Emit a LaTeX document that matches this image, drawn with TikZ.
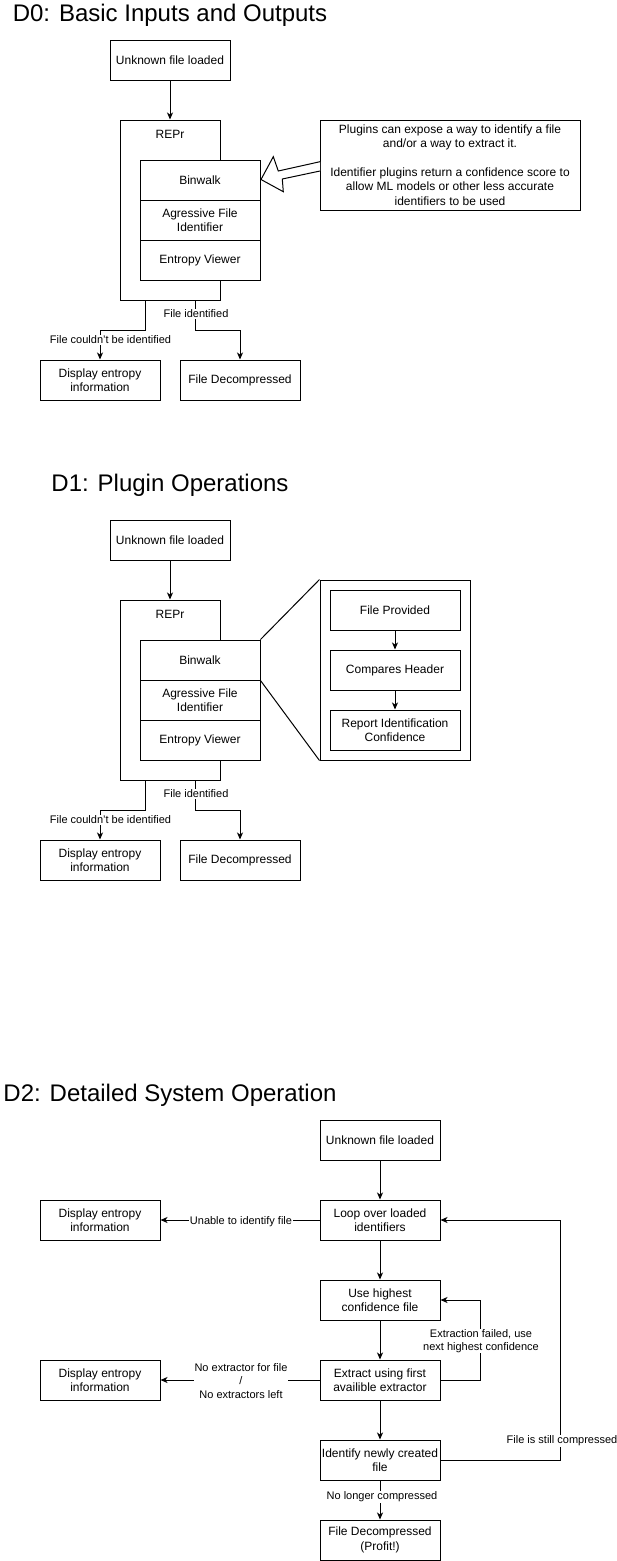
\documentclass[tikz,border=0pt]{standalone}
\usepackage{fontspec}
\setmainfont{Liberation Sans}
\usetikzlibrary{arrows.meta,calc}
\tikzset{
  box/.style={draw, fill=white, minimum width=120pt, minimum height=40pt, inner sep=0pt, align=center, font=\fontsize{12}{14.4}\selectfont},
  innerbox/.style={box, minimum width=130pt},
  frame/.style={draw, fill=white, inner sep=0pt},
  lbl/.style={fill=white, inner sep=0.5pt, align=center, font=\fontsize{11}{13.2}\selectfont},
  ttl/.style={inner sep=0pt, font=\fontsize{24}{28}\selectfont},
  arr/.style={-{Stealth[length=7pt,width=6pt,inset=2pt]}},
  every path/.style={line width=1pt}
}
\begin{document}
\begin{tikzpicture}[x=1pt,y=-1pt]
\useasboundingbox[fill=white] (0,0) rectangle (617,1561);

% ================= D0 =================
\node[ttl] (t0) at (170,15) {D0: Basic Inputs and Outputs};
\node[box] (u0) at (170,60) {Unknown file loaded};
\node[frame, minimum width=100pt, minimum height=180pt] (r0) at (170,210) {};
\node[inner sep=0pt, font=\fontsize{12}{14.4}\selectfont] (r0t) at (170,134) {REPr};
\node[box] (b0) at (200,180) {Binwalk};
\node[box] (a0) at (200,220) {Agressive File\\Identifier};
\node[box] (e0) at (200,260) {Entropy Viewer};
\node[box, minimum width=260pt, minimum height=90pt] (n0) at (450,165) {Plugins can expose a way to identify a file\\and/or a way to extract it.\\[14.4pt]Identifier plugins return a confidence score to\\allow ML models or other less accurate\\identifiers to be used};
\draw[fill=white, line join=miter] (320,161.7) -- (278.3,171) -- (273.3,156.7) -- (261,179.5) -- (283.3,191.7) -- (282.3,179) -- (320,171);
\node[box] (d0) at (100,380) {Display entropy\\information};
\node[box] (f0) at (240,380) {File Decompressed};
\draw[arr] (u0) -- (r0);
\draw[arr] ([xshift=-25pt]r0.south) -- ++(0,30) -| (d0.north);
\draw[arr] ([xshift=25pt]r0.south) -- ++(0,30) -| (f0.north);
\node[lbl] (l0a) at (110.5,340) {File couldn't be identified};
\node[lbl] (l0b) at (196,314) {File identified};

% ================= D1 =================
\node[ttl] (t1) at (170,485) {D1: Plugin Operations};
\node[box] (u1) at (170,540) {Unknown file loaded};
\node[frame, minimum width=100pt, minimum height=180pt] (r1) at (170,690) {};
\node[inner sep=0pt, font=\fontsize{12}{14.4}\selectfont] (r1t) at (170,614) {REPr};
\node[box] (b1) at (200,660) {Binwalk};
\node[box] (a1) at (200,700) {Agressive File\\Identifier};
\node[box] (e1) at (200,740) {Entropy Viewer};
\node[frame, minimum width=150pt, minimum height=180pt] (z1) at (395,670) {};
\node[innerbox] (fp1) at (395,610) {File Provided};
\node[innerbox] (ch1) at (395,670) {Compares Header};
\node[innerbox] (ri1) at (395,730) {Report Identification\\Confidence};
\draw (b1.north east) -- (z1.north west);
\draw (b1.south east) -- (z1.south west);
\draw[arr] (fp1) -- (ch1);
\draw[arr] (ch1) -- (ri1);
\node[box] (d1) at (100,860) {Display entropy\\information};
\node[box] (f1) at (240,860) {File Decompressed};
\draw[arr] (u1) -- (r1);
\draw[arr] ([xshift=-25pt]r1.south) -- ++(0,30) -| (d1.north);
\draw[arr] ([xshift=25pt]r1.south) -- ++(0,30) -| (f1.north);
\node[lbl] (l1a) at (110.5,820) {File couldn't be identified};
\node[lbl] (l1b) at (196,794) {File identified};

% ================= D2 =================
\node[ttl] (t2) at (170,1095) {D2: Detailed System Operation};
\node[box] (u2) at (380,1140) {Unknown file loaded};
\node[box] (lp2) at (380,1220) {Loop over loaded\\identifiers};
\node[box] (h2) at (380,1300) {Use highest\\confidence file};
\node[box] (x2) at (380,1380) {Extract using first\\availible extractor};
\node[box] (i2) at (380,1460) {Identify newly created\\file};
\node[box] (p2) at (380,1540) {File Decompressed\\(Profit!)};
\node[box] (da2) at (100,1220) {Display entropy\\information};
\node[box] (db2) at (100,1380) {Display entropy\\information};
\draw[arr] (u2) -- (lp2);
\draw[arr] (lp2) -- (h2);
\draw[arr] (h2) -- (x2);
\draw[arr] (x2) -- (i2);
\draw[arr] (i2) -- (p2);
\draw[arr] (lp2) -- (da2);
\draw[arr] (x2) -- (db2);
\draw[arr] (x2.east) -- ++(40,0) |- (h2.east);
\draw[arr] (i2.east) -- ++(120,0) |- (lp2.east);
\node[lbl] (l2a) at (241,1222) {Unable to identify file};
\node[lbl, inner sep=1pt] (l2b) at (241,1381) {No extractor for file\\/\\No extractors left};
\node[lbl] (l2c) at (481,1341) {Extraction failed, use\\next highest confidence};
\node[lbl] (l2d) at (562,1441) {File is still compressed};
\node[lbl] (l2e) at (382,1497) {No longer compressed};
\end{tikzpicture}
\end{document}
